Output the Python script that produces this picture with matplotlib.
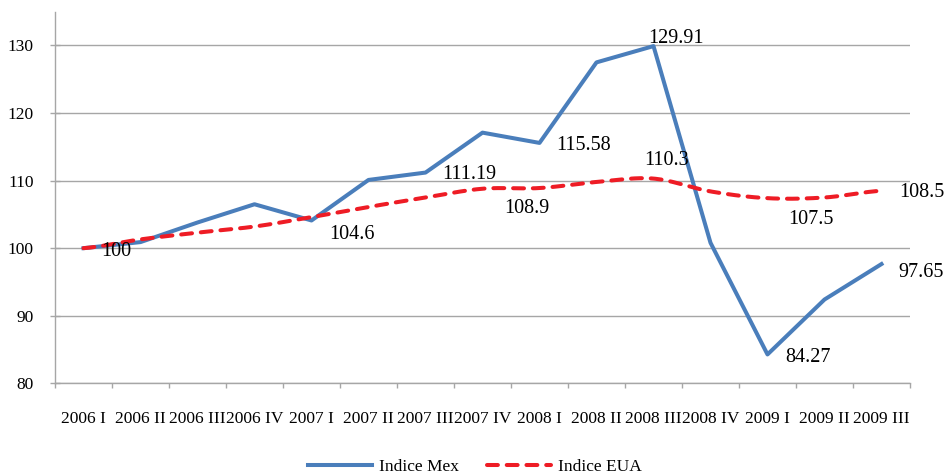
import numpy as np
import matplotlib
matplotlib.use("Agg")
import matplotlib.pyplot as plt
from matplotlib.lines import Line2D

plt.rcParams['font.family'] = ['Liberation Serif', 'DejaVu Serif']

categories = ["2006 I", "2006 II", "2006 III", "2006 IV", "2007 I", "2007 II", "2007 III",
              "2007 IV", "2008 I", "2008 II", "2008 III", "2008 IV", "2009 I", "2009 II", "2009 III"]
indice_mex = [100, 100.9, 103.8, 106.5, 104.1, 110.1, 111.19, 117.1, 115.58, 127.5, 129.91,
              100.8, 84.27, 92.4, 97.65]
indice_eua = [100, 101.3, 102.3, 103.2, 104.6, 106.1, 107.5, 108.8, 108.9, 109.8, 110.3,
              108.4, 107.4, 107.5, 108.5]
y_ticks = [80, 90, 100, 110, 120, 130]

# data labels: (series, index, text)
mex_label_idx = [6, 8, 10, 12, 14]
mex_label_txt = ["111.19", "115.58", "129.91", "84.27", "97.65"]
eua_label_idx = [0, 4, 8, 10, 13, 14]
eua_label_txt = ["100", "104.6", "108.9", "110.3", "107.5", "108.5"]

# label placement styles (pixel offsets, alignment)
mex_label_style = [(17, -2, 'left'), (17, -3, 'left'), (22, 8, 'center'), (18, -3, 'left'), (17, -8, 'left')]
eua_label_style = [(18, -3, 'left'), (18, -17, 'left'), (-13, -20, 'center'), (13, 18, 'center'),
                   (-14, -22, 'center'), (18, -2, 'left')]

BLUE = '#4A7EBB'
RED = '#EE1C25'
GRID = '#A6A6A6'


def catmull_rom(xs, ys, n=30):
    xs = np.asarray(xs, float)
    ys = np.asarray(ys, float)
    px = np.concatenate([[2 * xs[0] - xs[1]], xs, [2 * xs[-1] - xs[-2]]])
    py = np.concatenate([[ys[0]], ys, [ys[-1]]])
    outx, outy = [], []
    t = np.linspace(0, 1, n, endpoint=False)
    for i in range(1, len(px) - 2):
        for arr, out in ((px, outx), (py, outy)):
            p0, p1, p2, p3 = arr[i - 1], arr[i], arr[i + 1], arr[i + 2]
            m1 = (p2 - p0) / 2
            m2 = (p3 - p1) / 2
            h00 = 2 * t**3 - 3 * t**2 + 1
            h10 = t**3 - 2 * t**2 + t
            h01 = -2 * t**3 + 3 * t**2
            h11 = t**3 - t**2
            out.extend(h00 * p1 + h10 * m1 + h01 * p2 + h11 * m2)
    outx.append(xs[-1])
    outy.append(ys[-1])
    return np.array(outx), np.array(outy)


fig = plt.figure(figsize=(9.52, 4.76), dpi=100)
ax = fig.add_axes([55 / 952, 1 - 383.3 / 476, (910 - 55) / 952, (383.3 - 11.7) / 476])

x = np.arange(len(categories))
ax.plot(x, indice_mex, color=BLUE, lw=2.9, solid_joinstyle='round', zorder=3)
sx, sy = catmull_rom(x, indice_eua)
eua_line, = ax.plot(sx, sy, color=RED, lw=2.9, zorder=4, dash_capstyle='round')
eua_line.set_dashes((2.7, 2.2))

ax.set_xlim(-0.5, len(categories) - 0.5)
ax.set_ylim(80, 135)
ax.set_yticks(y_ticks)
ax.set_yticklabels([str(v) for v in y_ticks], fontsize=12.5)
ax.set_xticks(x)
ax.set_xticklabels(categories, fontsize=12.5)
ax.set_xticks(np.arange(-0.5, len(categories)), minor=True)
ax.tick_params(axis='x', which='major', length=0, pad=20)
ax.tick_params(axis='x', which='minor', length=3.5, width=1, color=GRID, direction='out')
ax.tick_params(axis='y', which='major', length=7, width=1, color=GRID, direction='inout', pad=12)

for s in ['top', 'right']:
    ax.spines[s].set_visible(False)
for s in ['left', 'bottom']:
    ax.spines[s].set_color(GRID)
    ax.spines[s].set_linewidth(1)
ax.yaxis.grid(True, color=GRID, lw=1)
ax.set_axisbelow(True)

for idx, txt, (dx, dy, ha) in zip(mex_label_idx, mex_label_txt, mex_label_style):
    ax.annotate(txt, xy=(idx, indice_mex[idx]), xytext=(dx, dy), textcoords='offset pixels',
                ha=ha, va='center', fontsize=14.5, zorder=5)
for idx, txt, (dx, dy, ha) in zip(eua_label_idx, eua_label_txt, eua_label_style):
    ax.annotate(txt, xy=(idx, indice_eua[idx]), xytext=(dx, dy), textcoords='offset pixels',
                ha=ha, va='center', fontsize=14.5, zorder=5)

h1 = Line2D([], [], color=BLUE, lw=2.9)
h2 = Line2D([], [], color=RED, lw=2.9, dash_capstyle='round')
h2.set_dashes((2.7, 2.2))
fig.legend([h1, h2], ['Indice Mex', 'Indice EUA'], loc='center', bbox_to_anchor=(0.499, 1 - 467 / 476),
           ncol=2, frameon=False, fontsize=12.5, handlelength=3.7, columnspacing=1.6, handletextpad=0.4)

fig.savefig('out.png', dpi=100)
